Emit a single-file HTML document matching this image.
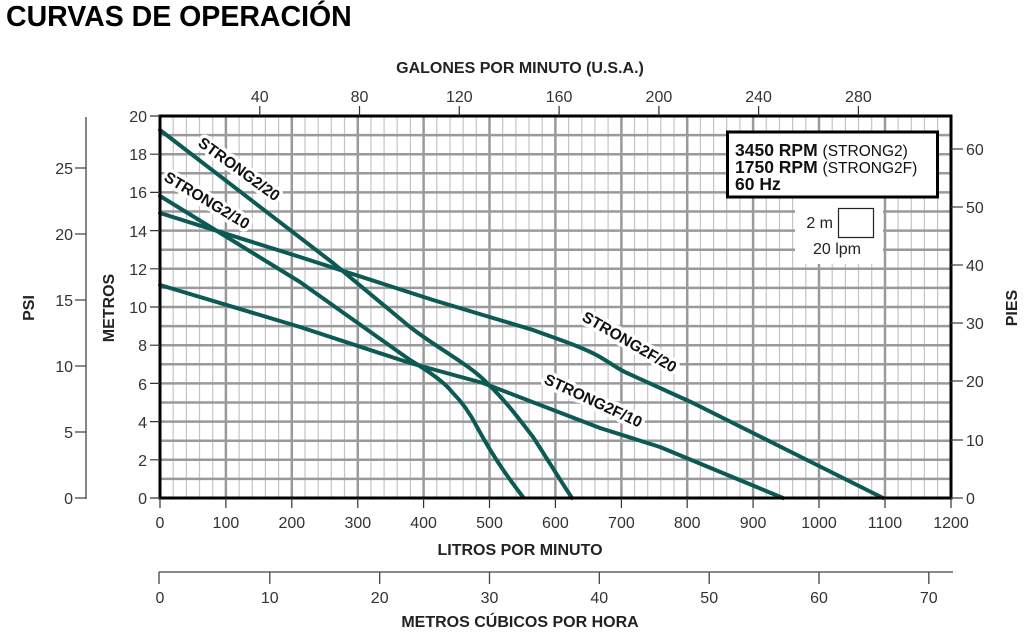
<!DOCTYPE html>
<html><head><meta charset="utf-8"><style>
body{margin:0;background:#fff;width:1024px;height:637px;overflow:hidden}
svg{display:block}
text{font-family:"Liberation Sans",Arial,sans-serif}
</style></head><body>
<svg width="1024" height="637" viewBox="0 0 1024 637" xmlns="http://www.w3.org/2000/svg">
<text x="6" y="26" font-size="28.5" font-weight="bold" fill="#000">CURVAS DE OPERACIÓN</text>
<text x="520" y="73" font-size="16" font-weight="bold" text-anchor="middle" fill="#222">GALONES POR MINUTO (U.S.A.)</text>
<g id="grid">
<g stroke="#c4c4c4" stroke-width="1.2">
<path d="M173.2 116V498M186.4 116V498M199.5 116V498M212.7 116V498M239.1 116V498M252.3 116V498M265.4 116V498M278.6 116V498M305 116V498M318.2 116V498M331.3 116V498M344.5 116V498M370.9 116V498M384.1 116V498M397.2 116V498M410.4 116V498M436.8 116V498M450 116V498M463.1 116V498M476.3 116V498M502.7 116V498M515.9 116V498M529 116V498M542.2 116V498M568.6 116V498M581.8 116V498M594.9 116V498M608.1 116V498M634.5 116V498M647.7 116V498M660.8 116V498M674 116V498M700.4 116V498M713.6 116V498M726.7 116V498M739.9 116V498M766.3 116V498M779.5 116V498M792.6 116V498M805.8 116V498M832.2 116V498M845.4 116V498M858.5 116V498M871.7 116V498M898.1 116V498M911.3 116V498M924.4 116V498M937.6 116V498"/>
</g>
<g stroke="#9a9a9a" stroke-width="2.5">
<path d="M225.9 116V498M291.8 116V498M357.8 116V498M423.6 116V498M489.5 116V498M555.4 116V498M621.4 116V498M687.2 116V498M753.1 116V498M819 116V498M885 116V498"/>
<path d="M160 135.1H951M160 154.2H951M160 173.3H951M160 192.4H951M160 211.5H951M160 230.6H951M160 249.7H951M160 268.8H951M160 287.9H951M160 307H951M160 326.1H951M160 345.2H951M160 364.3H951M160 383.4H951M160 402.5H951M160 421.6H951M160 440.7H951M160 459.8H951M160 478.9H951"/>
</g>
</g>
<g fill="#fff">
<rect x="795" y="198" width="88" height="66"/>
</g>
<!-- curve labels (halo) -->
<g font-size="15.5" font-weight="bold" fill="#111" stroke="#fff" stroke-width="7" paint-order="stroke" stroke-linejoin="round">
<text transform="translate(197,145) rotate(36)">STRONG2/20</text>
<text transform="translate(163,180) rotate(31)">STRONG2/10</text>
<text transform="translate(581,320) rotate(30)">STRONG2F/20</text>
<text transform="translate(543,383) rotate(25)">STRONG2F/10</text>
</g>
<!-- curves -->
<g fill="none" stroke="#0d5a55" stroke-width="4" stroke-linecap="round" stroke-linejoin="round">
<path d="M160 130 L333 263 L410 327 C440 350 470 365 487 383 C505 400 520 420 533 437 C548 460 560 480 572 498"/>
<path d="M160 196 L300 282 L410 360 C430 372 445 383 452 392 C465 405 472 417 477 427 C495 460 510 480 523 497"/>
<path d="M160 213 L300 257 L433 300 L533 330 C560 340 585 348 600 357 C615 366 620 370 627 373 L693 403 L793 453 L883 498"/>
<path d="M160 285 L300 327 L410 363 L483 383 L600 428 L660 447 L783 498"/>
</g>
<!-- legend -->
<rect x="727.5" y="132" width="210" height="65" fill="#fff" stroke="#000" stroke-width="3"/>
<text x="735" y="156" font-size="17.5" font-weight="bold" fill="#111">3450 RPM <tspan font-weight="normal" font-size="15.5">(STRONG2)</tspan></text>
<text x="735" y="173" font-size="17.5" font-weight="bold" fill="#111">1750 RPM <tspan font-weight="normal" font-size="15.5">(STRONG2F)</tspan></text>
<text x="735" y="190" font-size="17.5" font-weight="bold" fill="#111">60 Hz</text>
<rect x="838.5" y="208.5" width="35" height="29" fill="#fff" stroke="#222" stroke-width="1.2"/>
<text x="833" y="228" font-size="16" text-anchor="end" fill="#222">2 m</text>
<text x="837" y="254" font-size="16" text-anchor="middle" fill="#222">20 lpm</text>
<!-- frame -->
<rect x="160" y="116" width="791" height="382" fill="none" stroke="#000" stroke-width="3"/>
<g font-size="16" fill="#333" text-anchor="end">
<text x="147" y="504">0</text><text x="147" y="466">2</text><text x="147" y="428">4</text><text x="147" y="390">6</text><text x="147" y="351">8</text><text x="147" y="313">10</text><text x="147" y="275">12</text><text x="147" y="237">14</text><text x="147" y="198">16</text><text x="147" y="160">18</text><text x="147" y="122">20</text>
</g>
<g stroke="#333" stroke-width="1.2"><path d="M150 498H160M150 459.8H160M150 421.6H160M150 383.4H160M150 345.2H160M150 307H160M150 268.8H160M150 230.6H160M150 192.4H160M150 154.2H160M150 116H160"/></g>
<text transform="translate(114,308) rotate(-90)" font-size="16" font-weight="bold" text-anchor="middle" fill="#222">METROS</text>
<path d="M86 117V499M75 498H86M75 432H86M75 366H86M75 300H86M75 234H86M75 168H86" stroke="#444" stroke-width="1.3" fill="none"/>
<g font-size="16" fill="#333" text-anchor="end">
<text x="73" y="504">0</text><text x="73" y="438">5</text><text x="73" y="372">10</text><text x="73" y="306">15</text><text x="73" y="240">20</text><text x="73" y="174">25</text>
</g>
<text transform="translate(34,308) rotate(-90)" font-size="16" font-weight="bold" text-anchor="middle" fill="#222">PSI</text>
<path d="M951 498H963M951 440H963M951 381H963M951 323H963M951 265H963M951 207H963M951 149H963" stroke="#444" stroke-width="1.3"/>
<g font-size="16" fill="#333">
<text x="966" y="504">0</text><text x="966" y="446">10</text><text x="966" y="387">20</text><text x="966" y="329">30</text><text x="966" y="271">40</text><text x="966" y="213">50</text><text x="966" y="155">60</text>
</g>
<text transform="translate(1017,308) rotate(-90)" font-size="16" font-weight="bold" text-anchor="middle" fill="#222">PIES</text>
<g stroke="#333" stroke-width="1.2"><path d="M259.8 106V116M359.5 106V116M459.3 106V116M559.1 106V116M658.9 106V116M758.6 106V116M858.4 106V116"/></g>
<g font-size="16" fill="#333" text-anchor="middle">
<text x="259.8" y="102">40</text><text x="359.5" y="102">80</text><text x="459.3" y="102">120</text><text x="559.1" y="102">160</text><text x="658.9" y="102">200</text><text x="758.6" y="102">240</text><text x="858.4" y="102">280</text>
</g>
<g stroke="#333" stroke-width="1.2"><path d="M160 498V508M225.9 498V508M291.8 498V508M357.8 498V508M423.6 498V508M489.5 498V508M555.4 498V508M621.4 498V508M687.2 498V508M753.1 498V508M819 498V508M885 498V508M951 498V508"/></g>
<g font-size="16" fill="#333" text-anchor="middle">
<text x="160" y="528">0</text><text x="225.9" y="528">100</text><text x="291.8" y="528">200</text><text x="357.8" y="528">300</text><text x="423.6" y="528">400</text><text x="489.5" y="528">500</text><text x="555.4" y="528">600</text><text x="621.4" y="528">700</text><text x="687.2" y="528">800</text><text x="753.1" y="528">900</text><text x="819" y="528">1000</text><text x="885" y="528">1100</text><text x="951" y="528">1200</text>
</g>
<text x="520" y="555" font-size="16" font-weight="bold" text-anchor="middle" fill="#222">LITROS POR MINUTO</text>
<path d="M159 572H953M159 572V584M269.8 572V584M379.7 572V584M489.5 572V584M599.3 572V584M709.2 572V584M819 572V584M928.8 572V584" stroke="#444" stroke-width="1.3" fill="none"/>
<g font-size="16" fill="#333" text-anchor="middle">
<text x="160" y="603">0</text><text x="269.8" y="603">10</text><text x="379.7" y="603">20</text><text x="489.5" y="603">30</text><text x="599.3" y="603">40</text><text x="709.2" y="603">50</text><text x="819" y="603">60</text><text x="928.8" y="603">70</text>
</g>
<text x="520" y="627" font-size="16" font-weight="bold" text-anchor="middle" fill="#222">METROS CÚBICOS POR HORA</text>
</svg>
</body></html>
